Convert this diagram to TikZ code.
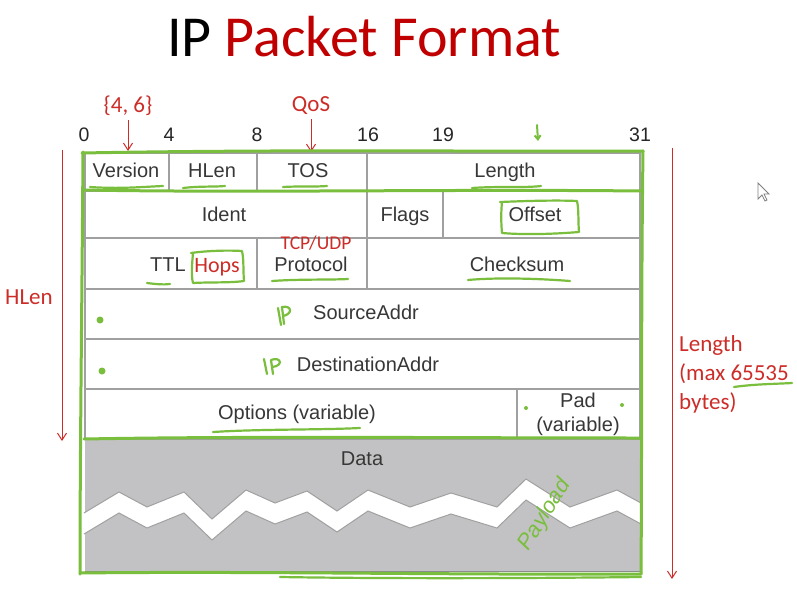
\documentclass[tikz,border=0pt]{standalone}
\usepackage{fontspec}
\setmainfont{Liberation Sans}
\newfontfamily\carlito{Carlito}
\usetikzlibrary{arrows.meta}
\definecolor{slidered}{RGB}{192,0,0}
\definecolor{penred}{RGB}{205,45,40}
\definecolor{pengreen}{RGB}{122,190,62}
\definecolor{gridgray}{RGB}{160,160,160}
\definecolor{txtgray}{RGB}{55,55,55}
\definecolor{datagray}{RGB}{194,194,196}
\tikzset{
  cell/.style={font=\fontsize{20}{22}\selectfont, text=txtgray, inner sep=0pt, anchor=base},
  bitnum/.style={font=\fontsize{19.5}{21}\selectfont, text=black!85, inner sep=0pt, anchor=base},
  grid/.style={draw=gridgray, line width=1.2pt},
  note/.style={font=\carlito\fontsize{23}{26}\selectfont, text=penred, inner sep=0pt},
  redarrow/.style={draw=penred, line width=1pt, -{Straight Barb[length=7pt,width=9pt]}},
  pen/.style={draw=pengreen, line width=3pt, line cap=round, line join=round},
  thinpen/.style={draw=pengreen, line width=2.2pt, line cap=round, line join=round},
}
\begin{document}
\begin{tikzpicture}[x=1pt, y=-1pt]
\useasboundingbox (0,0) rectangle (797,596);
\fill[white] (0,0) rectangle (797,596);

% title
\node[font=\carlito\fontsize{58}{62}\selectfont, inner sep=0pt, anchor=base] (title) at (364,57)
  {IP \textcolor{slidered}{Packet Format}};

% bit positions
\node[bitnum] (b0) at (84,142) {0};
\node[bitnum] (b4) at (169,142) {4};
\node[bitnum] (b8) at (257,142) {8};
\node[bitnum] (b16) at (368,142) {16};
\node[bitnum] (b19) at (443,142) {19};
\node[bitnum] (b31) at (640,142) {31};

% payload area with torn band
\fill[datagray] (85,439) rectangle (640,571);
\fill[white] (84,513) -- (119,492) -- (147,507) -- (184,492) -- (212,519) -- (246,490)
  -- (275,503) -- (307,491) -- (337,511) -- (368,490) -- (410,507) -- (451,493)
  -- (497,507) -- (526,479) -- (570,507) -- (617,490) -- (641,503)
  -- (641,524) -- (617,511) -- (570,528) -- (526,500) -- (497,528) -- (451,514)
  -- (410,528) -- (368,511) -- (337,532) -- (307,512) -- (275,524) -- (246,511)
  -- (212,540) -- (184,513) -- (147,528) -- (119,513) -- (84,534) -- cycle;
\draw[gridgray, line width=1pt] (84,513) -- (119,492) -- (147,507) -- (184,492) -- (212,519) -- (246,490)
  -- (275,503) -- (307,491) -- (337,511) -- (368,490) -- (410,507) -- (451,493)
  -- (497,507) -- (526,479) -- (570,507) -- (617,490) -- (641,503);
\draw[gridgray, line width=1pt] (84,534) -- (119,513) -- (147,528) -- (184,513) -- (212,540) -- (246,511)
  -- (275,524) -- (307,512) -- (337,532) -- (368,511) -- (410,528) -- (451,514)
  -- (497,528) -- (526,500) -- (570,528) -- (617,511) -- (641,524);
\draw[black!60, line width=2pt] (641,440) -- (641,490) (641,525) -- (641,571);
\draw[black!45, line width=1pt] (85,571) -- (641,571);
\node[cell] (data) at (362,465) {Data};

% header grid
\draw[grid] (85,153) rectangle (640,439);
\draw[grid] (85,191) -- (640,191) (85,238) -- (640,238) (85,289) -- (640,289)
  (85,339) -- (640,339) (85,389) -- (640,389);
\draw[grid] (169,153) -- (169,191) (257,153) -- (257,191) (367,153) -- (367,191)
  (367,191) -- (367,238) (443,191) -- (443,238)
  (257,238) -- (257,289) (367,238) -- (367,289)
  (517,389) -- (517,439);

% field names
\node[cell] (version) at (126,178) {Version};
\node[cell] (hlen) at (212,178) {HLen};
\node[cell] (tos) at (308,178) {TOS};
\node[cell] (length) at (505,178) {Length};
\node[cell] (ident) at (224,221) {Ident};
\node[cell] (flags) at (405,221) {Flags};
\node[cell] (offset) at (535,221) {Offset};
\node[cell] (ttl) at (168,271) {TTL};
\node[cell] (protocol) at (311,271) {Protocol};
\node[cell] (checksum) at (517,271) {Checksum};
\node[cell] (src) at (366,319) {SourceAddr};
\node[cell] (dst) at (368,371) {DestinationAddr};
\node[cell] (options) at (297,419) {Options (variable)};
\node[cell] (pad) at (578,407) {Pad};
\node[cell] (padvar) at (578,431) {(variable)};

% red notes
\node[note] (v46) at (128,106) {\{4, 6\}};
\coordinate (vtip) at (128,151);
\draw[redarrow] (v46.south) ++(0,4) -- (vtip);
\node[note] (qos) at (311,106) {QoS};
\coordinate (qtip) at (311,152);
\draw[redarrow] (qos.south) ++(0,4) -- (qtip);
\node[note, font=\carlito\fontsize{19.5}{21}\selectfont] (tcpudp) at (316,243) {TCP/UDP};
\node[note, font=\carlito\fontsize{22}{24}\selectfont, anchor=base] (hops) at (217,272) {Hops};

\coordinate (hltop) at (62,150);
\coordinate (hlbot) at (62,441);
\draw[redarrow] (hltop) -- (hlbot);
\node[note] (hlenlbl) at (29,297) {HLen};

\coordinate (lentop) at (672,148);
\coordinate (lenbot) at (672,579);
\draw[redarrow] (lentop) -- (lenbot);
\node[note, anchor=north west, align=left, font=\carlito\fontsize{23}{29}\selectfont] (lenlbl) at (679,335)
  {Length\\(max 65535\\bytes)};

% green pen marks: outline of the header and packet
\draw[pen] (82,153) .. controls (300,149) and (500,152) .. (643,151);
\draw[pen] (83,152) .. controls (82,300) and (80,450) .. (80,574);
\draw[pen] (643,151) .. controls (641,300) and (642,450) .. (641,574);
\draw[pen] (80,573) .. controls (250,571) and (450,575) .. (641,574);
\draw[thinpen] (280,577) .. controls (400,579) and (560,578) .. (641,577);
\draw[pen] (84,190) .. controls (250,193) and (450,189) .. (641,191);
\draw[pen] (84,439) .. controls (250,436) and (450,438) .. (641,438);

% underlines
\draw[thinpen] (90,187) .. controls (120,189) and (140,187) .. (163,186);
\draw[thinpen] (183,188) .. controls (200,186) and (215,187) .. (225,186);
\draw[thinpen] (283,187) .. controls (300,186) and (315,187) .. (327,186);
\draw[thinpen] (472,188) .. controls (500,186) and (525,188) .. (541,186);
\draw[thinpen] (147,283) .. controls (155,284) and (163,285) .. (170,284);
\draw[thinpen] (272,281) .. controls (300,279) and (330,280) .. (348,279);
\draw[thinpen] (468,280) .. controls (500,277) and (545,279) .. (570,281);
\draw[thinpen] (213,432) .. controls (260,429) and (320,430) .. (360,428);
\draw[thinpen] (734,387) .. controls (755,384) and (775,384) .. (792,383);

% boxes round Hops and Offset
\draw[thinpen] (193,253) .. controls (192,265) and (191,275) .. (193,283)
  .. controls (210,282) and (230,283) .. (244,281)
  .. controls (243,270) and (244,260) .. (242,251)
  .. controls (225,250) and (205,251) .. (191,253);
\draw[thinpen] (502,202) .. controls (501,212) and (501,222) .. (502,233)
  .. controls (525,235) and (555,234) .. (579,232)
  .. controls (578,222) and (579,210) .. (577,201)
  .. controls (555,200) and (525,201) .. (500,202);

% dots
\fill[pengreen] (100,320) circle (3.5pt);
\fill[pengreen] (102,371) circle (3.5pt);
\fill[pengreen] (526,408) circle (2pt);
\fill[pengreen] (622,405) circle (2pt);

% hand-written IP marks
\draw[thinpen] (278,308) .. controls (279,314) and (280,319) .. (281,325);
\draw[thinpen] (284,324) -- (282,307) .. controls (292,305) and (293,314) .. (283,316);
\draw[thinpen] (264,359) .. controls (265,364) and (266,369) .. (267,374);
\draw[thinpen] (273,374) -- (271,360) .. controls (281,356) and (284,366) .. (272,367);

% small pen arrow above the header
\draw[pengreen, line width=2pt, line cap=round, -{Straight Barb[length=4pt,width=6pt]}] (537,125) -- (538,141);

% hand-written "Payload"
\node[font=\fontsize{22}{24}\selectfont\itshape, text=pengreen, rotate=58, inner sep=0pt] (payload) at (545,515) {Payload};

% pointer
\filldraw[fill=white, draw=black!50, line width=0.8pt] (758,183) -- (758,199) -- (762,195) -- (765,201)
  -- (767,200) -- (764,194) -- (769,194) -- cycle;
\end{tikzpicture}
\end{document}
